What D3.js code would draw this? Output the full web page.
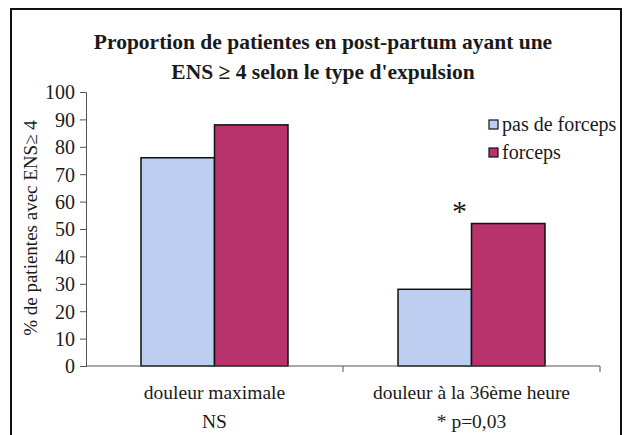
<!DOCTYPE html>
<html><head><meta charset="utf-8">
<script src="https://cdn.jsdelivr.net/npm/d3@7"></script>
<style>
body{margin:0;background:#fff}
svg{display:block}
svg text{font-family:'Liberation Serif' !important}
</style>
</head><body style="margin:0">
<svg id="c" width="624" height="435"></svg>
<script>
const categories = ["douleur maximale", "douleur à la 36ème heure"];
const subLabels = ["NS", "* p=0,03"];
const seriesNames = ["pas de forceps", "forceps"];
const pasDeForceps = [76, 28];
const forceps = [88, 52];
const yTicks = [0,10,20,30,40,50,60,70,80,90,100];
const titleLines = ["Proportion de patientes en post-partum ayant une", "ENS \u2265 4 selon le type d'expulsion"];
const yLabel = "% de patientes avec ENS\u2265 4";
const colors = ["#bccff0", "#b8326b"];

const svg = d3.select("#c");
svg.append("rect").attr("x",11).attr("y",9).attr("width",610).attr("height",440)
  .attr("fill","#fff").attr("stroke","#111").attr("stroke-width",2);

const L=86, R=600, T=92, B=366;
const x0 = d3.scaleBand().domain(categories).range([L,R]).paddingInner(0.428).paddingOuter(0.214);
const x1 = d3.scaleBand().domain(seriesNames).range([0,x0.bandwidth()]);
const y = d3.scaleLinear().domain([0,100]).range([B,T]);

function txt(sel){ return sel.style("font-family",'"Liberation Serif"').attr("fill","#1a1a1a"); }

// title
txt(svg.append("g").selectAll("text").data(titleLines).join("text")
  .attr("x",323).attr("y",(d,i)=>49+i*30).attr("text-anchor","middle")
  .attr("font-weight","bold").attr("font-size",21.5).text(d=>d));

// y axis
const yAxis = svg.append("g").attr("transform",`translate(${L},0)`)
  .call(d3.axisLeft(y).tickValues(yTicks).tickSize(6).tickPadding(5));
yAxis.attr("font-family",null).attr("font-size",null);
yAxis.select(".domain").attr("stroke","#555");
yAxis.selectAll(".tick line").attr("stroke","#555");
txt(yAxis.selectAll("text").attr("font-size",20).attr("dy","0.34em"));

txt(svg.append("text").attr("transform",`translate(37,228) rotate(-90)`).attr("text-anchor","middle")
  .attr("font-size",19).text(yLabel));

// bars
const data = categories.map((c,i)=>({c, vals:[pasDeForceps[i], forceps[i]]}));
const g = svg.append("g").selectAll("g").data(data).join("g").attr("transform",d=>`translate(${x0(d.c)},0)`);
g.selectAll("rect").data(d=>d.vals.map((v,j)=>({s:seriesNames[j],v,j}))).join("rect")
  .attr("x",d=>x1(d.s)).attr("width",x1.bandwidth()).attr("y",d=>y(d.v)).attr("height",d=>B-y(d.v))
  .attr("fill",d=>colors[d.j]).attr("stroke","#111").attr("stroke-width",1.5);

// x axis
const step = x0.step();
const bounds = [L, L+step, R];
svg.append("line").attr("x1",L).attr("x2",R).attr("y1",B).attr("y2",B).attr("stroke","#555").attr("stroke-width",1.2);
svg.append("g").selectAll("line").data(bounds.slice(1)).join("line")
  .attr("x1",d=>d).attr("x2",d=>d).attr("y1",B).attr("y2",B+6).attr("stroke","#555");
txt(svg.append("g").selectAll("text").data(categories).join("text")
  .attr("x",d=>x0(d)+x0.bandwidth()/2).attr("y",399).attr("text-anchor","middle").attr("font-size",19.5).text(d=>d));
txt(svg.append("g").selectAll("text").data(subLabels).join("text")
  .attr("x",(d,i)=>x0(categories[i])+x0.bandwidth()/2).attr("y",428).attr("text-anchor","middle").attr("font-size",19.5).text(d=>d));

// significance star
txt(svg.append("text").attr("x",x0(categories[1])+x1("forceps")-12).attr("y",y(52)-3)
  .attr("text-anchor","middle").attr("font-size",30).text("*"));

// legend
const lg = svg.append("g").selectAll("g").data(seriesNames).join("g")
  .attr("transform",(d,i)=>`translate(489,${125+i*28})`);
lg.append("rect").attr("x",0).attr("y",-5).attr("width",9).attr("height",9)
  .attr("fill",(d,i)=>colors[i]).attr("stroke","#111").attr("stroke-width",1.2);
txt(lg.append("text").attr("x",13).attr("y",6).attr("font-size",20).text(d=>d));
</script>
</body></html>
